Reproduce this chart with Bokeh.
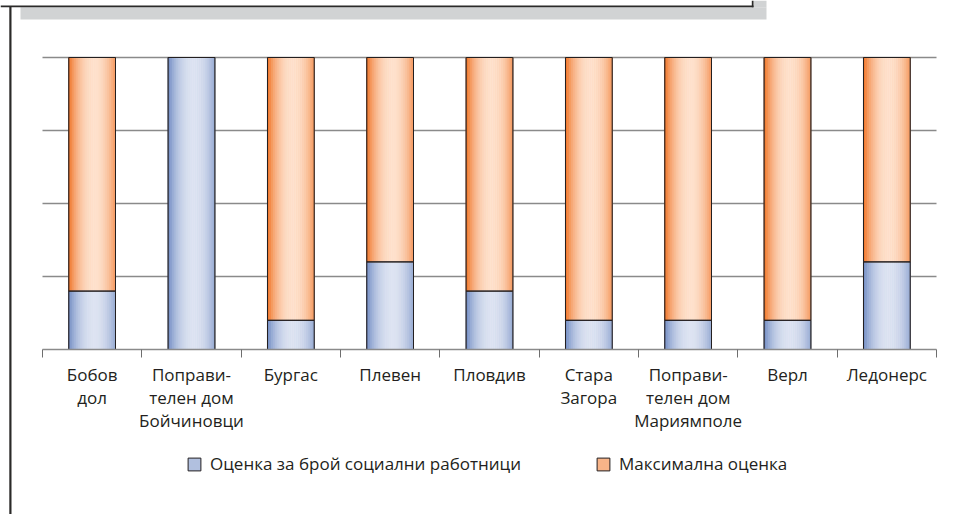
from bokeh.plotting import figure
from bokeh.models import (Range1d, LinearAxis, FixedTicker, Legend, LegendItem,
                          ColumnDataSource, BoxAnnotation)
from bokeh.embed import file_html
from bokeh.resources import INLINE

# ---- data ----
categories = ["Бобов\nдол", "Поправи-\nтелен дом\nБойчиновци", "Бургас", "Плевен", "Пловдив",
              "Стара\nЗагора", "Поправи-\nтелен дом\nМариямполе", "Верл", "Ледонерс"]
social_workers_score = [4, 20, 2, 6, 4, 2, 2, 2, 6]
max_score = [20, 20, 20, 20, 20, 20, 20, 20, 20]
series_names = ["Оценка за брой социални работници", "Максимална оценка"]
grid_ticks = [5, 10, 15, 20]

# ---- layout / style ----
W, H = 964, 514
PLOT_L, PLOT_R = 42, 936      # pixel extent of the plotting area
PLOT_B, PLOT_T = 349, 57      # pixel of value 0 and value Y_TOP
Y_TOP = 20
N = len(categories)
FONT = "Open Sans"
TXT = "#231F20"
BAR_W = 0.47
N_STRIPS = 24

ppx = (PLOT_R - PLOT_L) / N
ppy = (PLOT_B - PLOT_T) / Y_TOP
def dx(px):
    return (px - PLOT_L) / ppx
def dy(py):
    return (PLOT_B - py) / ppy

blue_edge, blue_mid = (122, 147, 199), (222, 228, 242)
orng_edge, orng_mid = (241, 124, 50), (254, 226, 206)

def mix(a, b, w):
    return "#%02x%02x%02x" % tuple(int(round(a[i] + (b[i] - a[i]) * w)) for i in range(3))

xs = [i + 0.5 for i in range(N)]
upper = [m - s for m, s in zip(max_score, social_workers_score)]
upper_top = [s + u for s, u in zip(social_workers_score, upper)]

p = figure(width=W, height=H, output_backend="svg", toolbar_location=None,
           x_range=Range1d(dx(0), dx(W)), y_range=Range1d(dy(H), dy(0)),
           x_axis_location=None, y_axis_location=None, min_border=0)
p.xgrid.visible = False
p.ygrid.visible = False
p.outline_line_color = None
p.background_fill_color = "white"
p.border_fill_color = "white"

# horizontal grid lines over the plotting area
p.segment(x0=0, x1=N, y0=grid_ticks, y1=grid_ticks, line_color="#8a8a8a", line_width=1.5,
          level="underlay")

# base bars (solid, also used as legend glyphs)
r_blue = p.vbar(x=xs, width=BAR_W, bottom=0, top=social_workers_score,
                fill_color=mix(blue_edge, blue_mid, 0.55), line_color=TXT, line_width=1)
r_orng = p.vbar(x=xs, width=BAR_W, bottom=social_workers_score, top=upper_top,
                fill_color=mix(orng_edge, orng_mid, 0.55), line_color=TXT, line_width=1)

# gradient strips
sx, sw, sb, st, sc = [], [], [], [], []
for i, x in enumerate(xs):
    for k in range(N_STRIPS):
        t = (k + 0.5) / N_STRIPS
        w = max(0.0, 1 - ((t - 0.55) / 0.52) ** 2) ** 0.9
        off = -BAR_W / 2 + (k + 0.5) * BAR_W / N_STRIPS
        sx.append(x + off); sw.append(BAR_W / N_STRIPS * 1.02)
        sb.append(0); st.append(social_workers_score[i]); sc.append(mix(blue_edge, blue_mid, w))
        sx.append(x + off); sw.append(BAR_W / N_STRIPS * 1.02)
        sb.append(social_workers_score[i]); st.append(upper_top[i]); sc.append(mix(orng_edge, orng_mid, w))

src = ColumnDataSource(dict(x=sx, w=sw, b=sb, t=st, c=sc))
p.vbar(x="x", width="w", bottom="b", top="t", fill_color="c", line_color="c",
       line_width=0.5, source=src)

# outlines
p.vbar(x=xs, width=BAR_W, bottom=0, top=social_workers_score, fill_color=None,
       line_color=TXT, line_width=1)
p.vbar(x=xs, width=BAR_W, bottom=social_workers_score, top=upper_top, fill_color=None,
       line_color=TXT, line_width=1)

# x axis at value 0
xaxis = LinearAxis(fixed_location=0, bounds=(0, N),
                   ticker=FixedTicker(ticks=xs, minor_ticks=list(range(N + 1))))
xaxis.major_label_overrides = {x: c for x, c in zip(xs, categories)}
xaxis.axis_line_color = "#8a8a8a"
xaxis.axis_line_width = 1.5
xaxis.major_tick_out = 0
xaxis.major_tick_in = 0
xaxis.minor_tick_out = 8
xaxis.minor_tick_in = 0
xaxis.minor_tick_line_color = "#6e6e6e"
xaxis.minor_tick_line_width = 1
xaxis.major_label_standoff = 5
xaxis.major_label_text_font = FONT
xaxis.major_label_text_font_size = "17px"
xaxis.major_label_text_color = TXT
xaxis.major_label_text_line_height = 1.0
p.add_layout(xaxis, "below")

# legend
legend = Legend(items=[LegendItem(label=series_names[0], renderers=[r_blue], index=0),
                       LegendItem(label=series_names[1], renderers=[r_orng], index=0)],
                orientation="horizontal", location=(186, 39), padding=0, spacing=74,
                glyph_width=16, glyph_height=16, label_standoff=8, margin=0,
                border_line_color=None, background_fill_alpha=0,
                label_text_font=FONT, label_text_font_size="17px", label_text_color=TXT)
p.add_layout(legend)

# decorations: header box shadow, header box border and left rule
def box(l, r, t, b, color):
    p.add_layout(BoxAnnotation(left=dx(l), right=dx(r), top=dy(t), bottom=dy(b),
                               fill_color=color, fill_alpha=1, line_color=None, level="overlay"))

GRAY, DARK = "#D1D3D4", "#2B2A29"
box(20, 766, 6.7, 19, GRAY)
box(753, 766, 0, 6.7, GRAY)
box(0, 753, 5, 6.8, DARK)
box(751.3, 753, 0, 6.8, DARK)
box(8.8, 11, 6, H, DARK)

open("out.html", "w").write(file_html(p, INLINE))
